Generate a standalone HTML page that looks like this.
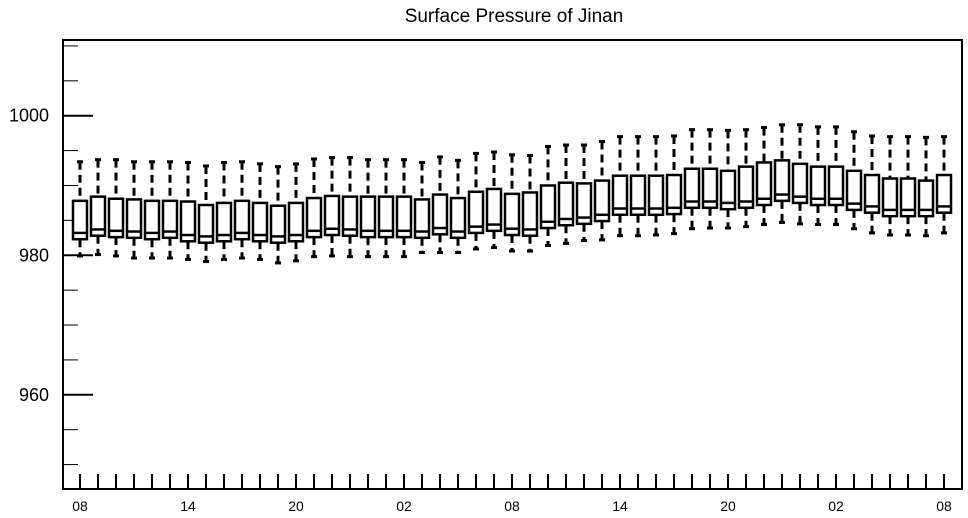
<!DOCTYPE html>
<html><head><meta charset="utf-8">
<style>
html,body{margin:0;padding:0;background:#fff;}
svg{display:block;font-family:"Liberation Sans",sans-serif;}
</style></head>
<body>
<svg id="chart" width="968" height="518" viewBox="0 0 968 518" xmlns="http://www.w3.org/2000/svg">
<text x="514" y="22" font-size="19" text-anchor="middle">Surface Pressure of Jinan</text>
<g id="yaxis"></g>
<g id="xaxis"></g>
<g id="boxes"></g>
<rect x="63" y="40" width="899" height="449" fill="none" stroke="#000" stroke-width="2"/>
</svg>
<script>
const hours = ["08","09","10","11","12","13","14","15","16","17","18","19","20","21","22","23","00","01","02","03","04","05","06","07","08","09","10","11","12","13","14","15","16","17","18","19","20","21","22","23","00","01","02","03","04","05","06","07","08"];
const xTickLabels = ["08","14","20","02","08","14","20","02","08"];
const yTicks = [960, 980, 1000];
const yMinorTicks = [950, 955, 965, 970, 975, 985, 990, 995, 1005, 1010];
const whiskerHigh = [993.4,993.7,993.7,993.4,993.4,993.4,993.3,992.8,993.3,993.4,993.1,992.7,993.1,993.8,994.0,994.0,993.7,993.7,993.7,993.3,994.1,993.6,994.6,994.8,994.4,994.3,995.6,995.8,995.8,996.3,997.0,997.0,997.0,997.1,998.0,998.0,997.9,998.0,998.3,998.7,998.7,998.4,998.4,997.7,997.1,997.0,997.0,996.9,997.0];
const q3 = [987.8,988.4,988.1,988.0,987.8,987.8,987.7,987.2,987.5,987.8,987.5,987.1,987.5,988.2,988.5,988.4,988.4,988.4,988.4,988.0,988.7,988.2,989.1,989.5,988.8,989.0,990.0,990.4,990.3,990.7,991.4,991.4,991.4,991.5,992.4,992.4,992.1,992.7,993.3,993.6,993.1,992.7,992.7,992.1,991.5,991.0,991.0,990.7,991.5];
const median = [983.2,983.7,983.5,983.4,983.2,983.4,982.9,982.7,982.9,983.2,982.9,982.7,982.9,983.5,983.8,983.7,983.5,983.5,983.5,983.4,983.9,983.4,984.1,984.4,983.8,983.7,984.8,985.2,985.4,985.8,986.7,986.7,986.7,986.8,987.7,987.7,987.5,987.7,988.1,988.7,988.4,988.1,988.1,987.4,987.0,986.5,986.5,986.5,987.0];
const q1 = [982.3,982.8,982.6,982.5,982.3,982.5,982.0,981.8,982.0,982.3,982.0,981.8,982.0,982.6,982.9,982.8,982.6,982.6,982.6,982.5,983.0,982.5,983.2,983.5,982.9,982.8,983.9,984.3,984.5,984.9,985.8,985.8,985.8,985.9,986.8,986.8,986.6,986.8,987.2,987.8,987.5,987.2,987.2,986.5,986.1,985.6,985.6,985.6,986.1];
const whiskerLow = [979.9,980.1,979.9,979.6,979.6,979.6,979.4,979.1,979.4,979.6,979.4,978.9,979.2,979.8,979.9,979.8,979.8,979.8,979.8,980.4,980.4,980.4,980.9,981.1,980.6,980.6,981.4,981.7,982.1,982.2,982.8,982.8,982.9,983.1,983.8,983.9,983.9,984.1,984.4,984.7,984.5,984.4,984.4,983.8,983.2,982.9,982.9,982.8,983.2];

const NS = "http://www.w3.org/2000/svg";
const Y0 = 946.5, Y1 = 1010.85, PT = 40, PB = 489;
function yScale(v){ return PB - (v - Y0) / (Y1 - Y0) * (PB - PT); }
function xScale(i){ return 80 + i * 18; }
function mk(tag, attrs, parent){
  const e = document.createElementNS(NS, tag);
  for (const k in attrs) e.setAttribute(k, attrs[k]);
  parent.appendChild(e);
  return e;
}
const yaxis = document.getElementById('yaxis');
const xaxis = document.getElementById('xaxis');
const boxes = document.getElementById('boxes');

yTicks.forEach(v => {
  const y = yScale(v);
  const t = mk('line', {x1:63, x2:93, y1:y, y2:y, stroke:'#000', 'stroke-width':2}, yaxis);
  
  
  const l = mk('text', {x:49, y:y+6, 'font-size':18, 'text-anchor':'end'}, yaxis);
  l.textContent = String(v);
  
  
});
yMinorTicks.forEach(v => {
  const y = yScale(v);
  const t = mk('line', {x1:63, x2:78, y1:y, y2:y, stroke:'#000', 'stroke-width':1}, yaxis);
  
  
});
hours.forEach((h, i) => {
  const x = xScale(i);
  const t = mk('line', {x1:x, x2:x, y1:474, y2:489, stroke:'#000', 'stroke-width':2}, xaxis);
  
  
});
xTickLabels.forEach((s, j) => {
  const x = xScale(j * 6);
  const l = mk('text', {x:x, y:511, 'font-size':14, 'text-anchor':'middle'}, xaxis);
  l.textContent = s;
  
  
});

hours.forEach((h, i) => {
  const x = xScale(i);
  const g = mk('g', {}, boxes);
  
  
  const yh = yScale(whiskerHigh[i]), y3 = yScale(q3[i]), ym = yScale(median[i]), y1 = yScale(q1[i]), yl = yScale(whiskerLow[i]);
  mk('line', {x1:x, x2:x, y1:yh, y2:y3, stroke:'#000', 'stroke-width':3, 'stroke-dasharray':'8,5'}, g);
  mk('line', {x1:x, x2:x, y1:y1, y2:yl, stroke:'#000', 'stroke-width':3, 'stroke-dasharray':'8,5'}, g);
  mk('line', {x1:x-3, x2:x+3, y1:yh, y2:yh, stroke:'#000', 'stroke-width':3}, g);
  mk('line', {x1:x-3, x2:x+3, y1:yl, y2:yl, stroke:'#000', 'stroke-width':3}, g);
  mk('rect', {x:x-7, y:y3, width:14, height:y1-y3, fill:'#fff', stroke:'#000', 'stroke-width':2.5}, g);
  mk('line', {x1:x-7, x2:x+7, y1:ym, y2:ym, stroke:'#000', 'stroke-width':2.5}, g);
});
</script>
</body></html>
